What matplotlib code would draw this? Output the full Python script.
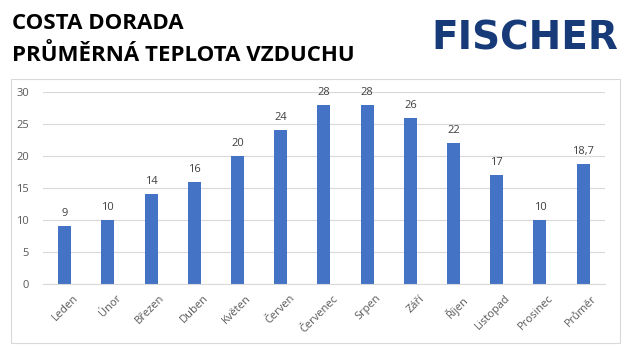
import matplotlib.pyplot as plt
import matplotlib.patches as mpatches
import matplotlib.transforms as mtransforms
import numpy as np

plt.rcParams["font.family"] = ["Open Sans", "DejaVu Sans"]

months = ["Leden", "Únor", "Březen", "Duben", "Květen", "Červen", "Červenec",
          "Srpen", "Září", "Říjen", "Listopad", "Prosinec", "Průměr"]
temps = [9, 10, 14, 16, 20, 24, 28, 28, 26, 22, 17, 10, 18.7]
value_labels = ["9", "10", "14", "16", "20", "24", "28", "28", "26", "22", "17", "10", "18,7"]

fig = plt.figure(figsize=(6.3, 3.54), dpi=100)
ax = fig.add_axes([0.0683, 0.1977, 0.8917, 0.5424])

x = np.arange(len(months))
ax.bar(x, temps, width=0.3, color="#4472C4", zorder=2)

for xi, v, lab in zip(x, temps, value_labels):
    ax.text(xi, v + 1.1, lab, ha="center", va="bottom", fontsize=8, color="#404040")

ax.set_xlim(-0.5, len(months) - 0.5)
ax.set_ylim(0, 30)
ax.set_yticks(range(0, 31, 5))
ax.grid(axis="y", color="#d9d9d9", linewidth=0.8, zorder=0)
for s in ["top", "right", "left"]:
    ax.spines[s].set_visible(False)
ax.spines["bottom"].set_color("#d9d9d9")
ax.tick_params(axis="both", length=0, colors="#595959", labelsize=8)
ax.tick_params(axis="y", pad=10)
ax.set_xticks(x)
ax.set_xticklabels(months, rotation=45, ha="right", rotation_mode="anchor")
shift = mtransforms.ScaledTranslation(6 / 72, -3 / 72, fig.dpi_scale_trans)
for lbl in ax.get_xticklabels():
    lbl.set_transform(lbl.get_transform() + shift)

# chart border
fig.patches.append(mpatches.Rectangle((0.0167, 0.031), 0.967, 0.746,
                                      transform=fig.transFigure, fill=False,
                                      edgecolor="#d9d9d9", linewidth=0.8))

fig.text(0.019, 0.917, "COSTA DORADA", fontsize=16, fontweight="bold",
         color="black", va="baseline")
fig.text(0.019, 0.828, "PRŮMĚRNÁ TEPLOTA VZDUCHU", fontsize=16,
         fontweight="bold", color="black", va="baseline")
fig.text(0.981, 0.859, "FISCHER", fontsize=28, fontweight="heavy",
         family="DejaVu Sans", color="#173a78", ha="right", va="baseline")

fig.savefig("out.png", dpi=100)
